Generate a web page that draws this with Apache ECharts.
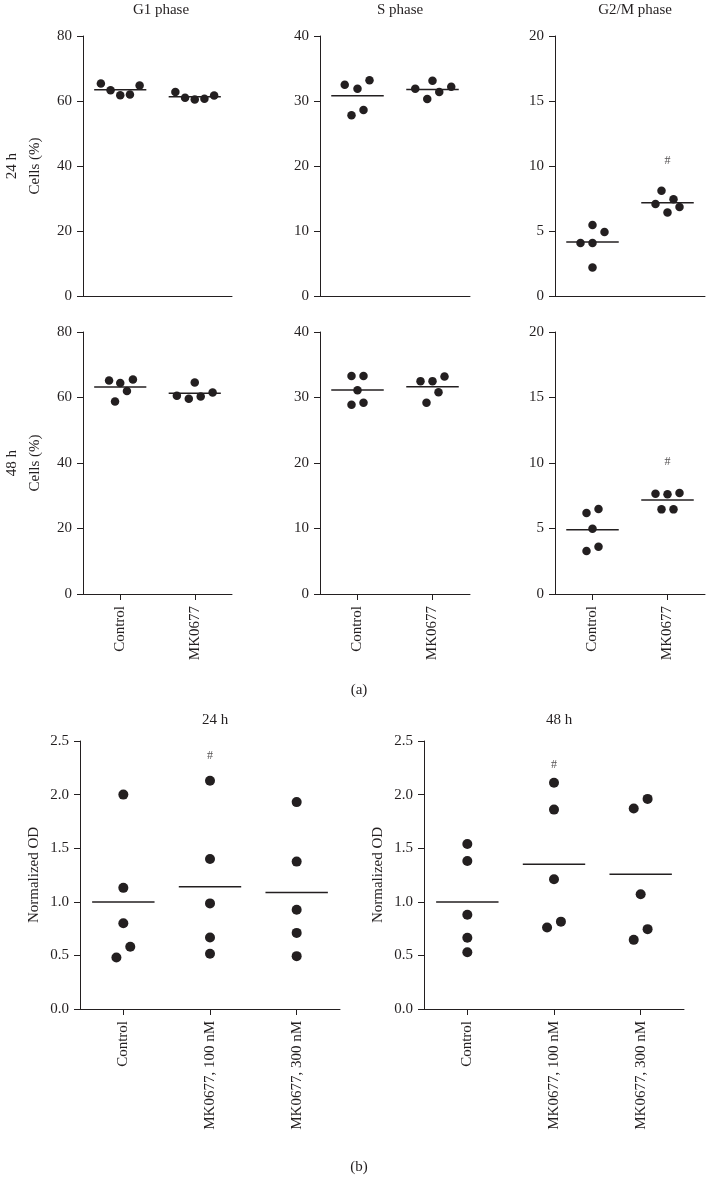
<!DOCTYPE html>
<html>
<head>
<meta charset="utf-8">
<script src="https://cdn.jsdelivr.net/npm/echarts@6/dist/echarts.min.js"></script>
<style>
html,body{margin:0;padding:0;background:#fff;}
#c{width:708px;height:1188px;}
</style>
</head>
<body>
<div id="c"></div>
<script>
// ---------- Data ----------
const catsA = ['Control', 'MK0677'];
const catsB = ['Control', 'MK0677, 100 nM', 'MK0677, 300 nM'];
const phaseTitles = ['G1 phase', 'S phase', 'G2/M phase'];
const timeLabels = ['24 h', '48 h'];

// Panel (a) cell percentages, per group (Control, MK0677)
const g1_24 = [[65.4, 63.3, 61.8, 62.0, 64.8], [62.8, 61.0, 60.5, 60.7, 61.7]];
const s_24 = [[32.5, 31.9, 33.2, 27.8, 28.6], [31.9, 33.1, 32.2, 30.3, 31.4]];
const g2m_24 = [[4.08, 4.08, 4.92, 5.46, 2.19], [7.07, 8.09, 7.45, 6.43, 6.84]];
const g1_48 = [[65.2, 64.4, 65.5, 62.0, 58.8], [60.5, 59.6, 64.6, 60.3, 61.5]];
const s_48 = [[33.3, 33.3, 31.1, 28.9, 29.2], [32.5, 32.5, 33.2, 30.8, 29.2]];
const g2m_48 = [[6.18, 6.49, 4.99, 3.28, 3.61], [7.66, 7.61, 7.71, 6.46, 6.46]];

// Beeswarm spread of each point within its group (category units)
const g1_24_sp = [[-0.26, -0.13, 0, 0.13, 0.26], [-0.26, -0.13, 0, 0.13, 0.26]];
const s_24_sp = [[-0.17, 0, 0.16, -0.08, 0.08], [-0.23, 0, 0.25, -0.07, 0.09]];
const g2m_24_sp = [[-0.16, 0, 0.16, 0, 0], [-0.16, -0.08, 0.08, 0, 0.16]];
const g1_48_sp = [[-0.15, 0, 0.17, 0.09, -0.07], [-0.24, -0.08, 0, 0.08, 0.24]];
const s_48_sp = [[-0.08, 0.08, 0, -0.08, 0.08], [-0.16, 0, 0.16, 0.08, -0.08]];
const g2m_48_sp = [[-0.08, 0.08, 0, -0.08, 0.08], [-0.16, 0, 0.16, -0.08, 0.08]];

// Panel (b) normalized OD, per group (Control, 100 nM, 300 nM)
const od_24 = [[2.0, 1.13, 0.80, 0.58, 0.48], [2.13, 1.40, 0.985, 0.667, 0.515], [1.93, 1.375, 0.926, 0.71, 0.493]];
const od_48 = [[1.54, 1.38, 0.88, 0.665, 0.53], [2.11, 1.86, 1.21, 0.76, 0.815], [1.87, 1.96, 1.07, 0.645, 0.745]];
const od_24_sp = [[0, 0, 0, 0.08, -0.08], [0, 0, 0, 0, 0], [0, 0, 0, 0, 0]];
const od_48_sp = [[0, 0, 0, 0, 0], [0, 0, 0, -0.08, 0.08], [-0.08, 0.08, 0, -0.08, 0.08]];

// Y axis ranges / tick steps
const yMaxA = [80, 40, 20];
const yStepA = [20, 10, 5];
const yMaxB = 2.5, yStepB = 0.5;

// Significance markers: [panel key, group index (1-based), y value]
const sigMarks = [['g2m_24', 2, 10.4], ['g2m_48', 2, 10.1], ['od_24', 2, 2.36], ['od_48', 2, 2.28]];

// ---------- Layout / styling ----------
const FONT = 'Liberation Serif';
const INK = '#231f20';
const panelsA = [
  {key: 'g1_24', d: g1_24, sp: g1_24_sp, col: 0, row: 0},
  {key: 's_24', d: s_24, sp: s_24_sp, col: 1, row: 0},
  {key: 'g2m_24', d: g2m_24, sp: g2m_24_sp, col: 2, row: 0},
  {key: 'g1_48', d: g1_48, sp: g1_48_sp, col: 0, row: 1},
  {key: 's_48', d: s_48, sp: s_48_sp, col: 1, row: 1},
  {key: 'g2m_48', d: g2m_48, sp: g2m_48_sp, col: 2, row: 1}
];
const panelsB = [
  {key: 'od_24', d: od_24, sp: od_24_sp, col: 0},
  {key: 'od_48', d: od_48, sp: od_48_sp, col: 1}
];
const gridA_left = [80, 320, 555];
const gridA_width = [152, 150, 150];
const gridA_top = [36, 332];
const gridA_h = [260, 262];
const gridB_left = [80, 424];

const grid = [], xAxis = [], yAxis = [], series = [], title = [];
const mean = a => a.reduce((s, v) => s + v, 0) / a.length;

function addPanel(p, g, cats, yMax, yStep, yFmt, yName, showX, dotSize, halfW, nameGap) {
  const gi = grid.length;
  grid.push(g);
  xAxis.push({
    type: 'category', gridIndex: gi, data: cats, boundaryGap: true,
    axisLine: {lineStyle: {color: INK, width: 1}},
    axisTick: {show: showX, alignWithLabel: true, length: 6, lineStyle: {color: INK}},
    axisLabel: {show: showX, rotate: 90, margin: 12, color: INK, fontFamily: FONT, fontSize: 15}
  });
  const valIdx = xAxis.length;
  xAxis.push({type: 'value', gridIndex: gi, min: 0.5, max: cats.length + 0.5, show: false});
  yAxis.push({
    type: 'value', gridIndex: gi, min: 0, max: yMax, interval: yStep,
    name: yName, nameLocation: 'middle', nameRotate: 90, nameGap: nameGap,
    nameTextStyle: {color: INK, fontFamily: FONT, fontSize: 15, lineHeight: 23},
    splitLine: {show: false},
    axisLine: {show: true, lineStyle: {color: INK, width: 1}},
    axisTick: {show: true, length: 6, lineStyle: {color: INK}},
    axisLabel: {color: INK, fontFamily: FONT, fontSize: 15, margin: 11, formatter: yFmt}
  });
  const pts = [];
  p.d.forEach((grp, i) => grp.forEach((v, j) => pts.push([i + 1 + p.sp[i][j], v])));
  series.push({
    type: 'scatter', xAxisIndex: valIdx, yAxisIndex: gi, data: pts,
    symbol: 'circle', symbolSize: dotSize, itemStyle: {color: INK, opacity: 1}, silent: true
  });
  p.d.forEach((grp, i) => {
    const m = mean(grp);
    series.push({
      type: 'line', xAxisIndex: valIdx, yAxisIndex: gi,
      data: [[i + 1 - halfW, m], [i + 1 + halfW, m]],
      symbol: 'none', silent: true, lineStyle: {color: INK, width: 1.5}
    });
  });
  sigMarks.filter(s => s[0] === p.key).forEach(s => {
    series.push({
      type: 'scatter', xAxisIndex: valIdx, yAxisIndex: gi, data: [[s[1], s[2]]],
      symbolSize: 1, itemStyle: {color: 'rgba(0,0,0,0)'}, silent: true,
      label: {show: true, position: 'inside', formatter: '#', color: INK, fontFamily: FONT, fontSize: 12}
    });
  });
}

panelsA.forEach(p => {
  const c = p.col, r = p.row;
  addPanel(p,
    {left: gridA_left[c], top: gridA_top[r], width: gridA_width[c], height: gridA_h[r]},
    catsA, yMaxA[c], yStepA[c], v => String(v),
    c === 0 ? timeLabels[r] + '\nCells (%)' : '', r === 1, 8.5, 0.35, 36);
});
panelsB.forEach(p => {
  addPanel(p,
    {left: gridB_left[p.col], top: 741, width: 260, height: 268},
    catsB, yMaxB, yStepB, v => v.toFixed(1),
    'Normalized OD', true, 10, 0.36, 34);
});

// Titles
const ts = {color: INK, fontFamily: FONT, fontSize: 15, fontWeight: 'normal'};
phaseTitles.forEach((t, c) => title.push({text: t, left: gridA_left[c] + gridA_width[c] / 2, top: -2, textAlign: 'center', textStyle: ts}));
timeLabels.forEach((t, c) => title.push({text: t, left: gridB_left[c] + 130, top: 708, textAlign: 'center', textStyle: ts}));
title.push({text: '(a)', left: 354, top: 678, textAlign: 'center', textStyle: ts});
title.push({text: '(b)', left: 354, top: 1155, textAlign: 'center', textStyle: ts});

const chart = echarts.init(document.getElementById('c'), null, {renderer: 'canvas'});
chart.setOption({
  backgroundColor: '#fff',
  animation: false,
  title: title,
  grid: grid,
  xAxis: xAxis,
  yAxis: yAxis,
  series: series
});
</script>
</body>
</html>
